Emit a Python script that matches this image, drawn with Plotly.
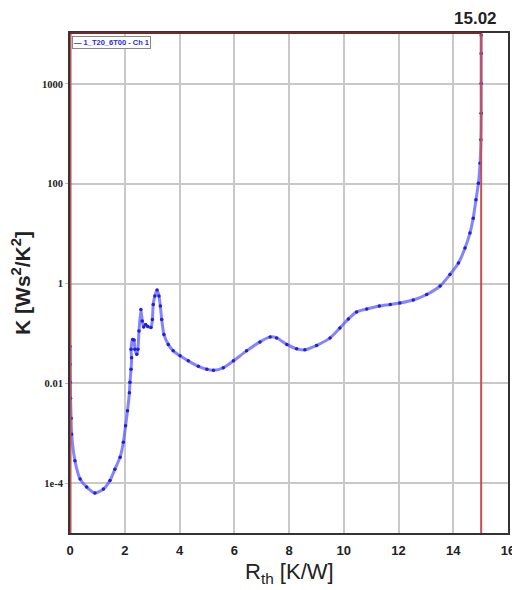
import plotly.graph_objects as go

# Data (x: Rth [K/W], y: log10 of K [Ws^2/K^2])
rth = [0.0, 0.0, 0.01, 0.02, 0.04, 0.06, 0.18, 0.37, 0.61, 0.91, 1.22, 1.46, 1.64,
       1.83, 1.95, 2.03, 2.10, 2.17, 2.19, 2.23, 2.25, 2.23, 2.29, 2.34, 2.37, 2.44,
       2.48, 2.52, 2.59, 2.64, 2.69, 2.76, 2.84, 2.96, 3.01, 3.04, 3.10, 3.18, 3.25,
       3.30, 3.35, 3.43, 3.59, 3.77, 4.02, 4.32, 4.69, 5.00, 5.24, 5.60, 5.97, 6.45,
       6.94, 7.31, 7.55, 7.92, 8.28, 8.58, 9.01, 9.50, 9.86, 10.17, 10.47, 10.84,
       11.30, 11.70, 12.05, 12.54, 13.03, 13.52, 13.88, 14.19, 14.43, 14.61, 14.73,
       14.83, 14.92, 14.98, 15.01, 15.02, 15.02, 15.02, 15.02]
log_k = [-1.26, -1.62, -1.98, -2.30, -2.70, -3.02, -3.55, -3.92, -4.08, -4.20, -4.12,
         -3.95, -3.72, -3.48, -3.18, -2.85, -2.55, -2.19, -1.98, -1.72, -1.49, -1.32,
         -1.12, -1.13, -1.32, -1.42, -1.32, -0.95, -0.52, -0.75, -0.87, -0.82, -0.86,
         -0.88, -0.72, -0.42, -0.25, -0.13, -0.25, -0.45, -0.72, -1.02, -1.22, -1.35,
         -1.45, -1.55, -1.66, -1.72, -1.74, -1.69, -1.55, -1.35, -1.17, -1.07, -1.09,
         -1.22, -1.31, -1.33, -1.24, -1.09, -0.89, -0.71, -0.57, -0.51, -0.45, -0.42,
         -0.39, -0.33, -0.22, -0.05, 0.18, 0.41, 0.71, 1.01, 1.31, 1.68, 2.01, 2.41,
         2.88, 3.41, 4.01, 4.61, 4.98]
k_vals = [10 ** v for v in log_k]

x_ticks = [0, 2, 4, 6, 8, 10, 12, 14, 16]
y_tickvals = [1e-4, 1e-2, 1, 100, 1e4]
y_ticktext = ["1e-4", "0.01", "1", "100", "1000"]
cursor_x = 15.02
series_name = "1_T20_6T00 - Ch 1"

fig = go.Figure()
fig.add_trace(go.Scatter(
    x=rth, y=k_vals, mode="lines+markers", name=series_name, showlegend=False,
    line=dict(color="rgba(80,80,255,0.7)", width=3, shape="spline", smoothing=0.6),
    marker=dict(color="rgb(30,30,220)", size=3.5),
))

red = "rgb(195,80,80)"
fig.add_shape(type="line", xref="x", yref="paper", x0=cursor_x, x1=cursor_x, y0=0, y1=1,
              line=dict(color=red, width=2))
fig.add_shape(type="line", xref="x", yref="paper", x0=0, x1=0, y0=0, y1=1,
              line=dict(color=red, width=3))
fig.add_shape(type="line", xref="x", yref="paper", x0=0, x1=cursor_x, y0=1, y1=1,
              line=dict(color="rgb(120,40,40)", width=2))
fig.add_annotation(x=cursor_x, y=1, xref="x", yref="paper", yanchor="bottom",
                   yshift=3, xshift=-6, text="15.02", showarrow=False,
                   font=dict(family="Liberation Sans", size=17, color="#222", weight="bold"))
# small legend box
fig.add_annotation(x=0.005, y=0.994, xref="paper", yref="paper", xanchor="left",
                   yanchor="top", text="\u2014 " + series_name, showarrow=False,
                   bgcolor="white", bordercolor="#888", borderwidth=1, borderpad=1,
                   font=dict(family="Liberation Sans", size=7.5, color="rgb(40,40,230)",
                             weight="bold"))
# x-axis title
fig.add_annotation(x=0.5, y=0, xref="paper", yref="paper", xanchor="center",
                   yanchor="middle", yshift=-40, text="R<sub>th</sub> [K/W]",
                   showarrow=False,
                   font=dict(family="Liberation Sans", size=22, color="#222"))

fig.update_layout(
    width=512, height=582,
    margin=dict(l=62, r=12, t=25, b=57),
    paper_bgcolor="white", plot_bgcolor="white",
    showlegend=False,
    xaxis=dict(range=[0, 16], tickvals=x_ticks, showgrid=True, gridcolor="#c8c8c8",
               gridwidth=1.5, zeroline=False, showline=True, linecolor="#333",
               linewidth=2, mirror=True, ticks="", automargin=False,
               ticklabelstandoff=4,
               tickfont=dict(family="Liberation Sans", size=13, color="#222", weight="bold")),
    yaxis=dict(type="log", range=[-5, 5.02], tickvals=y_tickvals, ticktext=y_ticktext,
               showgrid=True, gridcolor="#c8c8c8", gridwidth=1.5, zeroline=False,
               showline=True, linecolor="#333", linewidth=2, mirror=True,
               ticks="outside", ticklen=3, tickcolor="#bbb", automargin=False,
               tickfont=dict(family="Liberation Serif", size=10.5, color="#222", weight="bold"),
               title=dict(text="K [Ws<sup>2</sup>/K<sup>2</sup>]", standoff=8,
                          font=dict(family="Liberation Sans", size=21, color="#222",
                                    weight="bold"))),
)

fig.write_html("out.html")
